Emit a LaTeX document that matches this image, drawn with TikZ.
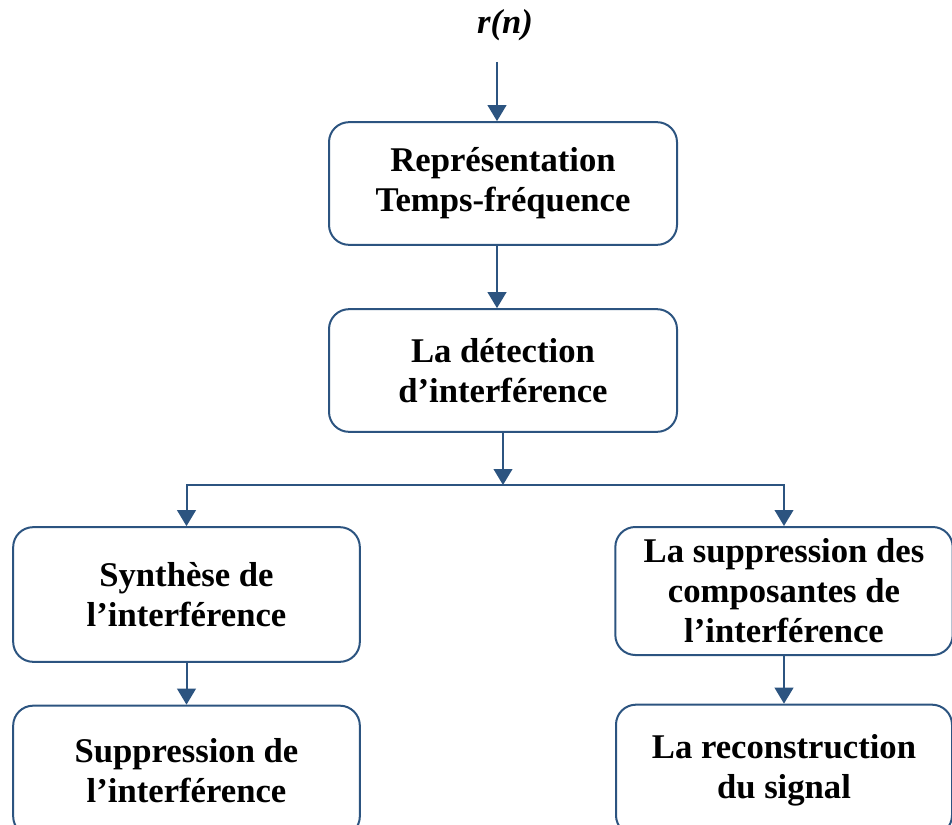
\documentclass[tikz,border=0pt]{standalone}
\usepackage{fontspec}
\setmainfont{Liberation Serif}
\usetikzlibrary{arrows.meta}
\definecolor{flowblue}{RGB}{44,84,128}

\begin{document}
\begin{tikzpicture}[x=0.75pt, y=-0.75pt,
    block/.style={draw=flowblue, line width=1.5pt, rounded corners=15pt, align=center,
        inner sep=0pt, font=\bfseries\fontsize{26}{30}\selectfont},
    arr/.style={draw=flowblue, line width=1.5pt, -{Triangle[length=12pt,width=14pt]}}]
    \useasboundingbox (0,0) rectangle (952,824);
    \clip (0,0) rectangle (952,824);

    % Input signal
    \node[font=\bfseries\itshape\fontsize{26}{30}\selectfont] (rn) at (505,25) {r(n)};
    \coordinate (in) at (497,62);

    % Main chain
    \node[block, minimum width=261pt, minimum height=92pt] (tfr) at (503,183.5) {Représentation\\Temps-fréquence};
    \node[block, minimum width=261pt, minimum height=92pt] (detect) at (503,370.5) {La détection\\d’interférence};

    % Left branch
    \node[block, minimum width=260pt, minimum height=101pt] (synth) at (186.5,594.5) {Synthèse de\\l’interférence};
    \node[block, minimum width=260pt, minimum height=98pt] (suppr) at (186.5,771) {Suppression de\\l’interférence};

    % Right branch
    \node[block, minimum width=253pt, minimum height=96pt] (supp) at (784,591) {La suppression des\\composantes de\\l’interférence};
    \node[block, minimum width=252pt, minimum height=98pt] (recon) at (784,770) {La reconstruction\\du signal};

    % Arrows
    \draw[arr] (in) -- (in |- tfr.north);
    \draw[arr] (tfr.south -| in) -- (detect.north -| in);
    \coordinate (split) at (503,485);
    \draw[arr] (detect.south) -- (split);
    \draw[arr] (split) -| (synth.north);
    \draw[arr] (split) -| (supp.north);
    \draw[arr] (synth.south) -- (suppr.north);
    \draw[arr] (supp.south) -- (recon.north);
\end{tikzpicture}
\end{document}
